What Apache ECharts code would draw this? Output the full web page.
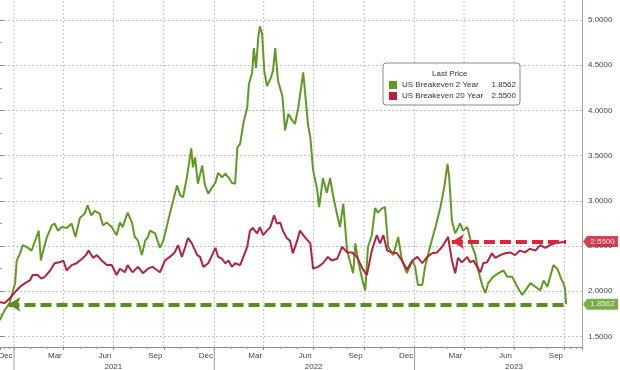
<!DOCTYPE html>
<html><head><meta charset="utf-8">
<script src="https://cdn.jsdelivr.net/npm/echarts@6/dist/echarts.min.js"></script>
<style>html,body{margin:0;padding:0;background:#fff}#c{width:620px;height:370px}</style>
</head><body><div id="c"></div>
<script>
const seriesNames = ['US Breakeven 2 Year', 'US Breakeven 20 Year'];
const legendTitle = 'Last Price';
// quarter tick (Jan/Apr/Jul/Oct 1) -> label of preceding month
const monthLabels = ['Dec', '', '', 'Mar', '', '', 'Jun', '', '', 'Sep', '', ''];
const yearStarts = ['2021-01-01', '2022-01-01', '2023-01-01'];
const quarterStarts = ['2021-01-01','2021-04-01','2021-07-01','2021-10-01','2022-01-01','2022-04-01','2022-07-01','2022-10-01','2023-01-01','2023-04-01','2023-07-01','2023-10-01'];
const yTicks = [1.5, 5.0];

const be2 = [['2020-12-06',1.68],['2020-12-15',1.79],['2020-12-24',1.87],['2021-01-03',2.09],['2021-01-06',2.34],['2021-01-12',2.42],['2021-01-17',2.51],['2021-01-24',2.49],['2021-02-02',2.45],['2021-02-11',2.60],['2021-02-15',2.67],['2021-02-19',2.34],['2021-02-22',2.42],['2021-03-02',2.60],['2021-03-11',2.73],['2021-03-16',2.75],['2021-03-22',2.67],['2021-03-29',2.71],['2021-04-07',2.70],['2021-04-16',2.75],['2021-04-23',2.60],['2021-05-01',2.81],['2021-05-10',2.86],['2021-05-15',2.95],['2021-05-22',2.84],['2021-05-28',2.89],['2021-06-06',2.86],['2021-06-12',2.73],['2021-06-19',2.76],['2021-06-28',2.71],['2021-07-07',2.62],['2021-07-13',2.76],['2021-07-18',2.71],['2021-07-27',2.87],['2021-08-04',2.76],['2021-08-09',2.60],['2021-08-15',2.56],['2021-08-22',2.40],['2021-08-28',2.56],['2021-09-02',2.60],['2021-09-06',2.67],['2021-09-15',2.64],['2021-09-24',2.48],['2021-09-30',2.56],['2021-10-07',2.73],['2021-10-12',2.86],['2021-10-18',3.00],['2021-10-25',3.17],['2021-10-31',3.06],['2021-11-05',3.04],['2021-11-12',3.26],['2021-11-20',3.58],['2021-11-23',3.37],['2021-11-27',3.48],['2021-12-02',3.19],['2021-12-10',3.39],['2021-12-15',3.17],['2021-12-21',3.08],['2021-12-28',3.15],['2022-01-03',3.20],['2022-01-08',3.31],['2022-01-15',3.26],['2022-01-21',3.30],['2022-01-27',3.26],['2022-02-02',3.20],['2022-02-08',3.19],['2022-02-12',3.59],['2022-02-17',3.63],['2022-02-23',3.86],['2022-03-02',4.03],['2022-03-05',4.29],['2022-03-11',4.42],['2022-03-14',4.69],['2022-03-18',4.47],['2022-03-22',4.80],['2022-03-25',4.93],['2022-03-29',4.85],['2022-04-02',4.44],['2022-04-07',4.27],['2022-04-14',4.36],['2022-04-18',4.44],['2022-04-22',4.69],['2022-04-27',4.33],['2022-05-05',4.16],['2022-05-10',3.78],['2022-05-16',3.96],['2022-05-23',3.89],['2022-05-28',3.85],['2022-06-03',4.03],['2022-06-12',4.42],['2022-06-21',3.83],['2022-06-25',3.70],['2022-06-30',3.34],['2022-07-07',3.14],['2022-07-11',2.93],['2022-07-18',3.25],['2022-07-25',3.09],['2022-07-31',3.25],['2022-08-06',3.04],['2022-08-13',2.84],['2022-08-18',2.71],['2022-08-24',2.97],['2022-08-31',2.45],['2022-09-06',2.31],['2022-09-11',2.20],['2022-09-15',2.53],['2022-09-20',2.34],['2022-09-28',2.12],['2022-10-03',2.01],['2022-10-08',2.49],['2022-10-15',2.62],['2022-10-21',2.92],['2022-10-26',2.87],['2022-11-03',2.92],['2022-11-08',2.93],['2022-11-14',2.49],['2022-11-23',2.40],['2022-12-02',2.60],['2022-12-09',2.34],['2022-12-18',2.20],['2022-12-28',2.34],['2023-01-02',2.27],['2023-01-07',2.07],['2023-01-15',2.07],['2023-01-20',2.27],['2023-01-29',2.49],['2023-02-08',2.71],['2023-02-17',2.93],['2023-02-24',3.15],['2023-03-02',3.41],['2023-03-05',3.26],['2023-03-10',2.78],['2023-03-16',2.64],['2023-03-25',2.75],['2023-03-30',2.67],['2023-04-07',2.71],['2023-04-16',2.49],['2023-04-21',2.42],['2023-04-27',2.23],['2023-05-05',2.05],['2023-05-10',1.98],['2023-05-15',2.09],['2023-05-24',2.16],['2023-06-03',2.20],['2023-06-12',2.23],['2023-06-19',2.16],['2023-06-28',2.16],['2023-07-07',2.05],['2023-07-16',1.96],['2023-07-22',2.01],['2023-07-31',2.09],['2023-08-09',2.05],['2023-08-18',2.01],['2023-08-24',2.12],['2023-08-31',2.05],['2023-09-05',2.16],['2023-09-11',2.29],['2023-09-18',2.25],['2023-09-25',2.14],['2023-09-29',2.09],['2023-10-02',2.03],['2023-10-04',1.8562]];

const be20 = [['2020-12-06',1.88],['2020-12-15',1.87],['2020-12-24',1.92],['2021-01-03',1.99],['2021-01-12',2.05],['2021-01-21',2.09],['2021-01-30',2.12],['2021-02-04',2.18],['2021-02-13',2.18],['2021-02-20',2.14],['2021-02-26',2.16],['2021-03-08',2.23],['2021-03-16',2.31],['2021-03-25',2.32],['2021-04-01',2.34],['2021-04-07',2.23],['2021-04-16',2.29],['2021-04-25',2.31],['2021-05-05',2.36],['2021-05-12',2.40],['2021-05-17',2.45],['2021-05-25',2.37],['2021-06-01',2.40],['2021-06-10',2.34],['2021-06-19',2.29],['2021-06-28',2.29],['2021-07-07',2.18],['2021-07-13',2.25],['2021-07-22',2.21],['2021-07-27',2.29],['2021-08-05',2.21],['2021-08-15',2.27],['2021-08-24',2.20],['2021-09-02',2.25],['2021-09-10',2.27],['2021-09-15',2.25],['2021-09-24',2.21],['2021-10-03',2.34],['2021-10-12',2.38],['2021-10-21',2.43],['2021-10-27',2.51],['2021-11-03',2.38],['2021-11-09',2.49],['2021-11-14',2.59],['2021-11-21',2.53],['2021-12-01',2.40],['2021-12-06',2.38],['2021-12-12',2.27],['2021-12-21',2.31],['2021-12-28',2.40],['2022-01-03',2.48],['2022-01-08',2.38],['2022-01-15',2.36],['2022-01-21',2.31],['2022-01-27',2.34],['2022-02-02',2.27],['2022-02-08',2.31],['2022-02-17',2.29],['2022-02-23',2.38],['2022-03-02',2.49],['2022-03-07',2.67],['2022-03-12',2.70],['2022-03-20',2.64],['2022-03-25',2.71],['2022-03-31',2.62],['2022-04-07',2.67],['2022-04-13',2.71],['2022-04-20',2.84],['2022-04-25',2.75],['2022-05-01',2.76],['2022-05-06',2.67],['2022-05-13',2.59],['2022-05-19',2.56],['2022-05-24',2.42],['2022-06-01',2.56],['2022-06-06',2.67],['2022-06-15',2.60],['2022-06-25',2.53],['2022-06-30',2.25],['2022-07-09',2.27],['2022-07-18',2.31],['2022-07-27',2.38],['2022-08-03',2.34],['2022-08-13',2.36],['2022-08-22',2.49],['2022-08-31',2.43],['2022-09-09',2.43],['2022-09-18',2.38],['2022-09-28',2.25],['2022-10-06',2.18],['2022-10-15',2.45],['2022-10-24',2.62],['2022-10-30',2.53],['2022-11-05',2.62],['2022-11-12',2.45],['2022-11-21',2.43],['2022-11-30',2.42],['2022-12-09',2.34],['2022-12-18',2.24],['2022-12-28',2.34],['2023-01-06',2.38],['2023-01-15',2.31],['2023-01-24',2.38],['2023-02-02',2.42],['2023-02-11',2.43],['2023-02-20',2.49],['2023-03-03',2.60],['2023-03-10',2.34],['2023-03-16',2.20],['2023-03-21',2.37],['2023-03-28',2.32],['2023-04-07',2.38],['2023-04-12',2.32],['2023-04-18',2.34],['2023-04-25',2.27],['2023-05-01',2.21],['2023-05-06',2.31],['2023-05-13',2.32],['2023-05-22',2.42],['2023-05-28',2.37],['2023-06-06',2.40],['2023-06-15',2.42],['2023-06-24',2.43],['2023-07-03',2.40],['2023-07-12',2.45],['2023-07-21',2.43],['2023-07-30',2.47],['2023-08-09',2.45],['2023-08-18',2.51],['2023-08-27',2.48],['2023-09-05',2.51],['2023-09-14',2.53],['2023-09-23',2.54],['2023-10-04',2.55]];

const lastPrice = [be2[be2.length - 1][1], be20[be20.length - 1][1]];
const arrowStart = ['2020-12-22', '2023-03-10'];
const arrowEnd = '2023-10-04';

const xMin = '2020-12-06 12:00';
const xMax = '2023-11-02';
const yMin = 1.384, yMax = 5.221;

const FONT = 'Liberation Sans';
const GREEN = '#5f9b22', RED = '#b3223f';

const chart = echarts.init(document.getElementById('c'), null, {renderer: 'canvas'});

function arrowLine(start, val, color) {
  return {
    silent: true, symbol: ['arrow', 'none'], symbolSize: [11, 12], animation: false,
    lineStyle: {color: color, width: 4, type: [11, 5], opacity: 1},
    label: {show: false}, emphasis: {disabled: true},
    data: [[{coord: [start, val]}, {coord: [arrowEnd, val]}]]
  };
}

const tagPath = 'path://M0,5L4,0L34,0L34,10L4,10Z';

chart.setOption({
  animation: false,
  backgroundColor: '#fff',
  textStyle: {fontFamily: FONT},
  title: {
    text: legendTitle, left: 432, top: 70, padding: 0, z: 10,
    textStyle: {fontSize: 8, fontWeight: 'normal', color: '#333', fontFamily: FONT}
  },
  legend: {
    orient: 'vertical', left: 383, top: 63, padding: [17, 4, 4, 6], itemGap: 1,
    itemWidth: 8, itemHeight: 8, icon: 'rect', selectedMode: false,
    backgroundColor: '#fff', borderColor: '#8a8a8a', borderWidth: 1, borderRadius: 3,
    data: seriesNames,
    formatter: function (name) {
      const i = seriesNames.indexOf(name);
      return '{n|' + name + '}{v|' + lastPrice[i].toFixed(4) + '}';
    },
    textStyle: {
      fontSize: 8, color: '#333', fontFamily: FONT, lineHeight: 10,
      rich: {n: {width: 88, fontSize: 8, color: '#333'}, v: {width: 26, align: 'right', fontSize: 8, color: '#333'}}
    }
  },
  grid: [
    {left: 0, right: 38, top: 0, bottom: 23, outerBoundsMode: 'none', containLabel: false},
    {left: 0, right: 38, top: 20, bottom: 33.5, outerBoundsMode: 'none', containLabel: false},
    {left: 583, right: 2, top: 0, bottom: 23, outerBoundsMode: 'none', containLabel: false}
  ],
  xAxis: [
    {
      gridIndex: 0, type: 'time', min: xMin, max: xMax, splitNumber: 9,
      axisLine: {show: true, lineStyle: {color: '#8c8c8c', width: 1}},
      axisTick: {show: true, length: 3, lineStyle: {color: '#8c8c8c'}},
      minorTick: {show: true, splitNumber: 3, length: 2, lineStyle: {color: '#999'}},
      splitLine: {show: false},
      axisLabel: {
        show: true, interval: 0, hideOverlap: false, margin: 3, color: '#444', fontSize: 8, fontFamily: FONT,
        showMinLabel: true, showMaxLabel: true,
        formatter: function (val) {
          const d = new Date(val);
          if (d.getDate() !== 1) return '';
          const lab = monthLabels[d.getMonth()];
          if (!lab) return '';
          if (d.getMonth() === 6) return '{m|' + lab + '}\n{y|' + d.getFullYear() + '}';
          return '{m|' + lab + '}';
        },
        rich: {
          m: {fontSize: 8, color: '#444', padding: [0, 17, 0, 0], lineHeight: 11, fontFamily: FONT},
          y: {fontSize: 8, color: '#444', lineHeight: 11, fontFamily: FONT}
        }
      }
    },
    {gridIndex: 1, type: 'value', min: 0, max: 1, show: false},
    {gridIndex: 2, type: 'value', min: 0, max: 1, show: false}
  ],
  yAxis: [
    {
      gridIndex: 0, type: 'value', position: 'right', min: yMin, max: yMax,
      axisLine: {show: true, lineStyle: {color: '#a4a48c', width: 1}},
      axisTick: {show: false}, axisLabel: {show: false}, splitLine: {show: false}
    },
    {
      gridIndex: 1, type: 'value', position: 'right', min: yTicks[0], max: yTicks[1], interval: 0.5,
      axisLine: {show: false},
      axisTick: {show: true, length: 4, lineStyle: {color: '#888'}},
      minorTick: {show: true, splitNumber: 2, length: 2, lineStyle: {color: '#999'}},
      splitLine: {show: true, lineStyle: {color: '#c2c2c2', type: [2, 2], width: 1}},
      axisLabel: {formatter: v => v.toFixed(4), fontSize: 8, color: '#444', margin: 6, fontFamily: FONT}
    },
    {gridIndex: 2, type: 'value', min: yMin, max: yMax, show: false}
  ],
  series: [
    {
      type: 'custom', xAxisIndex: 0, yAxisIndex: 0, clip: false, silent: true, z: 0,
      data: quarterStarts.map(d => [d, yMin, yMax]),
      encode: {x: 0, y: [1, 2]},
      renderItem: function (params, api) {
        const p0 = api.coord([api.value(0), api.value(1)]);
        const p1 = api.coord([api.value(0), api.value(2)]);
        return {type: 'line', shape: {x1: p0[0], y1: p0[1], x2: p1[0], y2: p1[1]},
                style: {stroke: '#c2c2c2', lineWidth: 1, lineDash: [2, 2]}};
      }
    },
    {
      name: seriesNames[0], type: 'line', xAxisIndex: 0, yAxisIndex: 0, data: be2,
      showSymbol: false, symbol: 'none', color: GREEN, z: 3,
      lineStyle: {color: GREEN, width: 2}, emphasis: {disabled: true},
      markLine: arrowLine(arrowStart[0], lastPrice[0], '#5a8c1e')
    },
    {
      name: seriesNames[1], type: 'line', xAxisIndex: 0, yAxisIndex: 0, data: be20,
      showSymbol: false, symbol: 'none', color: RED, z: 4,
      lineStyle: {color: RED, width: 2}, emphasis: {disabled: true},
      markLine: arrowLine(arrowStart[1], lastPrice[1], '#e0243a')
    },
    {
      type: 'custom', xAxisIndex: 0, yAxisIndex: 0, clip: false, silent: true, z: 1,
      data: yearStarts.map(d => [d, yMin]),
      encode: {x: 0, y: 1},
      renderItem: function (params, api) {
        const p = api.coord([api.value(0), api.value(1)]);
        return {type: 'line', shape: {x1: p[0], y1: p[1], x2: p[0], y2: p[1] + 24},
                style: {stroke: '#9a9a9a', lineWidth: 1}};
      }
    },
    {
      type: 'scatter', xAxisIndex: 2, yAxisIndex: 2, silent: true, z: 5,
      data: [
        {value: [0.5, lastPrice[1]], itemStyle: {color: '#c8142e'}},
        {value: [0.5, lastPrice[0]], itemStyle: {color: '#5a9a1a'}}
      ],
      symbol: tagPath, symbolSize: [35, 11],
      label: {show: true, position: 'inside', offset: [2, 0], color: '#fff', fontSize: 8, fontFamily: FONT,
              formatter: p => p.value[1].toFixed(4)}
    }
  ]
});
</script></body></html>
